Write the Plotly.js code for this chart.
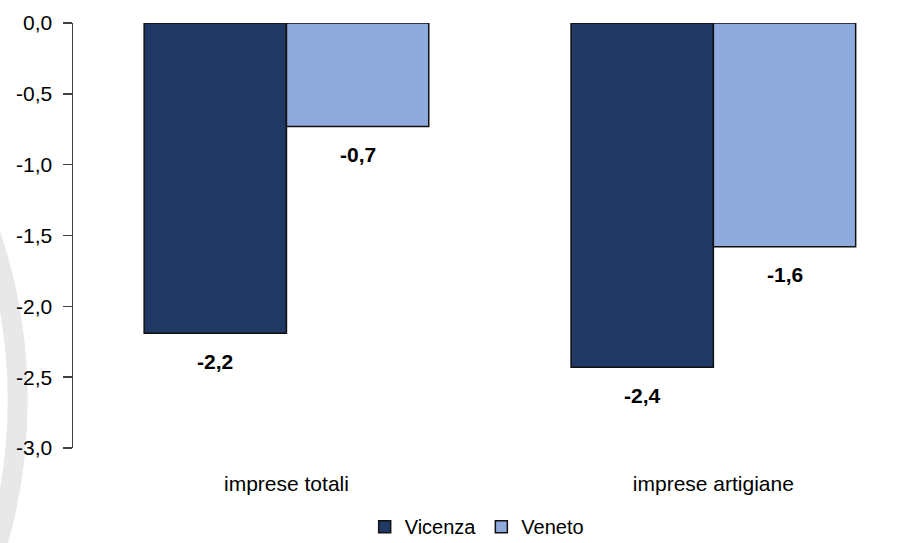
<!DOCTYPE html>
<html>
<head>
<meta charset="utf-8">
<script src="https://cdn.plot.ly/plotly-3.0.1.min.js"></script>
<style>
  html, body { margin: 0; padding: 0; background: #ffffff; overflow: hidden; }
  #chart { width: 914px; height: 543px; }
</style>
</head>
<body>
<div id="chart"></div>
<script>
// ---- data ----
const categories = ["imprese totali", "imprese artigiane"];
const vicenza = [-2.19, -2.43];
const veneto = [-0.73, -1.58];
const seriesNames = ["Vicenza", "Veneto"];
const yTickValues = [0, -0.5, -1.0, -1.5, -2.0, -2.5, -3.0];

const colVicenza = "#203864";
const colVeneto = "#8FAADC";
const font = "'Liberation Sans', Arial, sans-serif";

function fmt(v) { return v.toFixed(1).replace(".", ","); }

const traces = [
  {
    type: "bar", name: seriesNames[0], x: categories, y: vicenza,
    marker: { color: colVicenza, line: { color: "#111111", width: 1.5 } },
    hoverinfo: "skip"
  },
  {
    type: "bar", name: seriesNames[1], x: categories, y: veneto,
    marker: { color: colVeneto, line: { color: "#111111", width: 1.5 } },
    hoverinfo: "skip"
  }
];

const annotations = [];
[vicenza, veneto].forEach(function (vals, s) {
  const off = s === 0 ? -1 / 6 : 1 / 6;
  vals.forEach(function (v, i) {
    annotations.push({
      x: i + off, y: v, xref: "x", yref: "y",
      text: "<b>" + fmt(v) + "</b>",
      showarrow: false, yanchor: "middle", xanchor: "center", yshift: -28,
      font: { family: font, size: 21, color: "#000000" }
    });
  });
});

const layout = {
  width: 914, height: 543,
  margin: { l: 73, r: 0, t: 23, b: 95, pad: 0, autoexpand: false },
  paper_bgcolor: "#ffffff", plot_bgcolor: "rgba(0,0,0,0)",
  separators: ",.",
  barmode: "group", bargap: 1 / 3, bargroupgap: 0,
  font: { family: font, size: 21, color: "#000000" },
  xaxis: {
    type: "category", range: [-0.5, 1.47], fixedrange: true, automargin: false,
    showline: false, showgrid: false, zeroline: false, ticks: "",
    ticklabelstandoff: 21,
    tickfont: { family: font, size: 21, color: "#000000" }
  },
  xaxis2: {
    overlaying: "x", side: "top", anchor: "y", type: "linear",
    range: [-0.5, 1.47], fixedrange: true, automargin: false,
    showline: true, linecolor: "#000000", linewidth: 2,
    ticks: "inside", ticklen: 8, tickwidth: 2, tickcolor: "#000000",
    tickmode: "array", tickvals: [-0.5, 0.5, 1.5],
    showticklabels: false, showgrid: false, zeroline: false
  },
  yaxis: {
    range: [-3, 0], fixedrange: true, automargin: false,
    tickmode: "array", tickvals: yTickValues, ticktext: yTickValues.map(fmt),
    ticks: "outside", ticklen: 9, tickwidth: 1.5, tickcolor: "#404040",
    showline: true, linecolor: "#404040", linewidth: 1.5,
    showgrid: false, zeroline: false,
    ticklabelstandoff: 6,
    tickfont: { family: font, size: 21, color: "#000000" }
  },
  legend: {
    orientation: "h", x: 0.48, xanchor: "center", y: -0.185, yanchor: "middle",
    font: { family: font, size: 20, color: "#000000" },
    traceorder: "normal", itemclick: false, itemdoubleclick: false
  },
  annotations: annotations,
  shapes: [
    {
      type: "circle", xref: "paper", yref: "paper", layer: "below",
      x0: -1.3028, x1: -0.0658, y0: -1.1106, y1: 1.3365,
      line: { color: "#e8e8e8", width: 20 }, fillcolor: "rgba(0,0,0,0)"
    }
  ]
};

Plotly.newPlot("chart", traces, layout, { displayModeBar: false, staticPlot: true });
</script>
</body>
</html>
